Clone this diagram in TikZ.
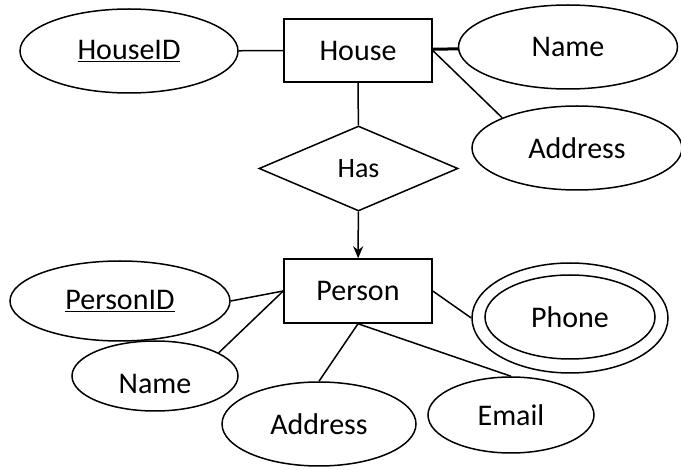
\documentclass[tikz,border=0pt]{standalone}
\usepackage{fontspec}
\setmainfont{Carlito}
\usetikzlibrary{shapes.geometric,arrows.meta}
\begin{document}
\begin{tikzpicture}[x=1pt,y=-1pt,
  every node/.style={font=\fontsize{30}{35}\selectfont, inner sep=0pt},
  attr/.style={draw, ellipse, line width=1.5pt},
  ent/.style={draw, rectangle, line width=1.5pt},
  rel/.style={draw, diamond, line width=1.5pt},
  conn/.style={line width=1.5pt}]
\useasboundingbox[fill=white] (0,0) rectangle (681,470);
% House part
\node[ent, minimum width=148pt, minimum height=63pt] (house) at (358,50.5) {House};
\node[attr, minimum width=218pt, minimum height=84pt] (hid) at (129,51) {\underline{HouseID}};
\node[attr, minimum width=219pt, minimum height=84pt] (hname) at (568,47) {Name};
\node[attr, minimum width=210pt, minimum height=84pt] (haddr) at (577,148) {Address};
\node[rel, minimum width=199pt, minimum height=85pt, font=\fontsize{28}{32}\selectfont] (has) at (358.5,168.5) {Has};
% Person part
\node[ent, minimum width=148pt, minimum height=64pt] (person) at (358,291) {Person};
\node[attr, minimum width=220pt, minimum height=80pt] (pid) at (120,301) {\underline{PersonID}};
\node[attr, minimum width=166pt, minimum height=70pt] (pname) at (155,376) {};
\node (pnametext) at ([yshift=-8pt]pname.center) {Name};
\node[attr, minimum width=194pt, minimum height=84pt] (paddr) at (319,424) {Address};
\node[attr, minimum width=166pt, minimum height=76pt] (email) at (511,415) {Email};
\node[attr, minimum width=196pt, minimum height=110pt] (phone) at (570,318) {};
\node[attr, minimum width=170pt, minimum height=84pt] (phonein) at (570,317) {Phone};
% connectors
\draw[conn] (hid) -- (house);
\draw[line width=3pt] (house) -- (hname);
\draw[conn] (house.east) -- (haddr.158);
\draw[conn] (house) -- (has);
\draw[conn, -{Stealth[length=12pt,width=10pt]}] (has) -- (person);
\draw[conn] (pid.east) -- (person.west);
\draw[conn] (person.west) -- (pname.20);
\draw[conn] (person.south) -- (paddr.north);
\draw[conn] (person.south) -- (email.north);
\draw[conn] (person.east) -- (phone.west);
\end{tikzpicture}
\end{document}
